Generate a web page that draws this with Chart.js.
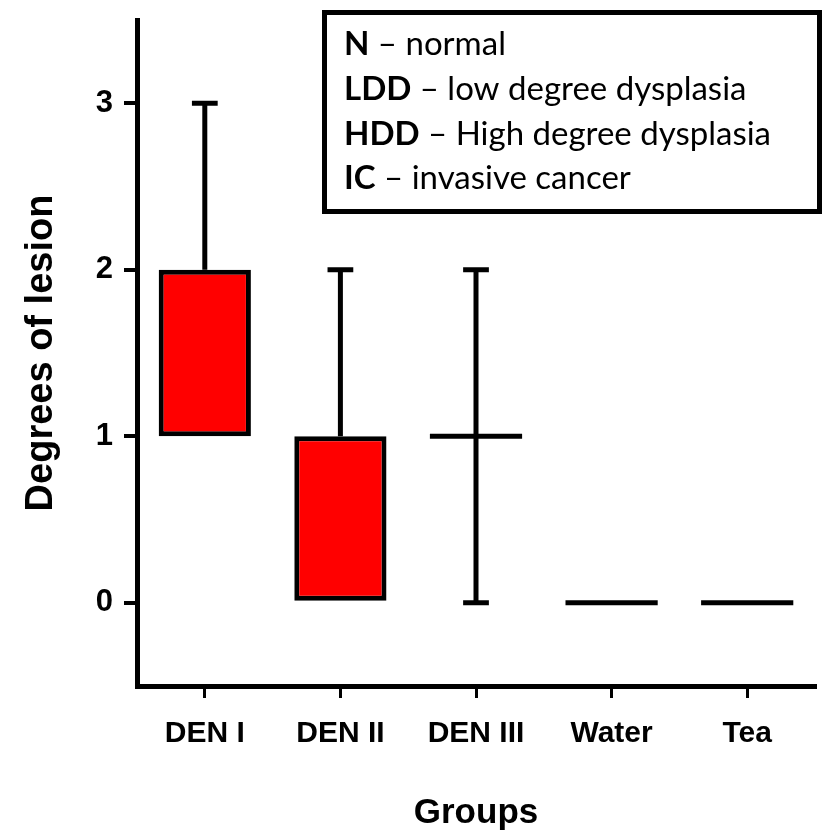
<!DOCTYPE html>
<html>
<head>
<meta charset="utf-8">
<script src="https://cdn.jsdelivr.net/npm/chart.js@4.4.1/dist/chart.umd.min.js"></script>
<style>
  html, body { margin: 0; padding: 0; background: #fff; }
  #wrap { width: 823px; height: 835px; position: relative; }
</style>
</head>
<body>
<div id="wrap"><canvas id="graph-viewer"></canvas></div>
<script>
// box plot values per group (degrees of lesion)
const groups = ['DEN I', 'DEN II', 'DEN III', 'Water', 'Tea'];
const mins = [1, 0, 0, 0, 0];
const q1s = [1, 0, 1, 0, 0];
const medians = [2, 1, 1, 0, 0];
const q3s = [2, 1, 1, 0, 0];
const maxs = [3, 2, 2, 0, 0];
const yTicks = [0, 1, 2, 3];

const legendLines = [
    ['N', ' – normal'],
    ['LDD', ' – low degree dysplasia'],
    ['HDD', ' – High degree dysplasia'],
    ['IC', ' – invasive cancer']
];

const boxes = groups.map((g, i) => q1s[i] === q3s[i] ? null : [q1s[i], q3s[i]]);

const whiskerPlugin = {
    id: 'whiskers',
    afterDatasetsDraw(chart) {
        const ctx = chart.ctx;
        const x = chart.scales.x, y = chart.scales.y;
        const step = x.getPixelForValue(1) - x.getPixelForValue(0);
        const boxW = step * 0.68;
        const capW = step * 0.19;
        ctx.save();
        ctx.strokeStyle = '#000';
        ctx.lineWidth = 5;
        ctx.lineCap = 'butt';
        groups.forEach((g, i) => {
            const cx = x.getPixelForValue(i);
            const line = (x0, y0, x1, y1) => {
                ctx.beginPath(); ctx.moveTo(x0, y0); ctx.lineTo(x1, y1); ctx.stroke();
            };
            if (maxs[i] > q3s[i]) {
                line(cx, y.getPixelForValue(q3s[i]), cx, y.getPixelForValue(maxs[i]));
                line(cx - capW / 2, y.getPixelForValue(maxs[i]), cx + capW / 2, y.getPixelForValue(maxs[i]));
            }
            if (mins[i] < q1s[i]) {
                line(cx, y.getPixelForValue(q1s[i]), cx, y.getPixelForValue(mins[i]));
                line(cx - capW / 2, y.getPixelForValue(mins[i]), cx + capW / 2, y.getPixelForValue(mins[i]));
            }
            if (q1s[i] === q3s[i]) {
                const my = y.getPixelForValue(medians[i]);
                line(cx - boxW / 2, my, cx + boxW / 2, my);
            }
        });
        ctx.restore();
    },
    afterDraw(chart) {
        // abbreviation key box, top right
        const ctx = chart.ctx;
        ctx.save();
        ctx.strokeStyle = '#000';
        ctx.lineWidth = 5;
        ctx.strokeRect(324.5, 12.5, 495, 199);
        ctx.fillStyle = '#000';
        ctx.textBaseline = 'alphabetic';
        const size = 33;
        const fam = 'Lato, "Open Sans", sans-serif';
        legendLines.forEach((ln, k) => {
            const by = 55 + k * 44.8;
            ctx.font = 'bold ' + size + 'px ' + fam;
            ctx.fillText(ln[0], 344, by);
            const w = ctx.measureText(ln[0]).width;
            ctx.font = size + 'px ' + fam;
            ctx.fillText(ln[1], 344 + w, by);
        });
        ctx.restore();
    }
};

document.addEventListener('DOMContentLoaded', function() {
    const ctx = document.getElementById('graph-viewer').getContext('2d');
    new Chart(ctx, {
        type: 'bar',
        data: {
            labels: groups,
            datasets: [{
                data: boxes,
                backgroundColor: '#ff0000',
                borderColor: '#000',
                borderWidth: 5,
                borderSkipped: false,
                barPercentage: 0.68,
                categoryPercentage: 1
            }]
        },
        options: {
            responsive: true,
            maintainAspectRatio: false,
            animation: false,
            layout: { padding: { top: 20, right: 8, left: 0, bottom: 0 } },
            plugins: { legend: { display: false }, tooltip: { enabled: false } },
            scales: {
                x: {
                    afterFit: s => { s.height = 149; },
                    border: { display: true, color: '#000', width: 5 },
                    grid: { offset: false, drawOnChartArea: false, drawTicks: true, tickLength: 12, lineWidth: 3, color: '#000' },
                    ticks: { color: '#000', padding: 18, maxRotation: 0, font: { family: 'Arial, "Liberation Sans"', size: 30, weight: 'bold' } },
                    title: { display: true, text: 'Groups', color: '#000', padding: { top: 0, bottom: 1 }, font: { family: 'Arial, "Liberation Sans"', size: 35, weight: 'bold' } }
                },
                y: {
                    min: -0.5,
                    max: 3.5,
                    afterFit: s => { s.width = 137; s.paddingTop = 0; s.paddingBottom = 0; },
                    afterBuildTicks: s => { s.ticks = yTicks.map(v => ({ value: v })); },
                    border: { display: true, color: '#000', width: 5 },
                    grid: { drawOnChartArea: false, drawTicks: true, tickLength: 13, lineWidth: 4, color: '#000' },
                    ticks: { color: '#000', padding: 11, font: { family: 'Arial, "Liberation Sans"', size: 31, weight: 'bold' } },
                    title: { display: true, text: 'Degrees of lesion', color: '#000', padding: { top: 19, bottom: 0 }, font: { family: 'Arial, "Liberation Sans"', size: 38, weight: 'bold' } }
                }
            }
        },
        plugins: [whiskerPlugin]
    });
});
</script>
</body>
</html>
